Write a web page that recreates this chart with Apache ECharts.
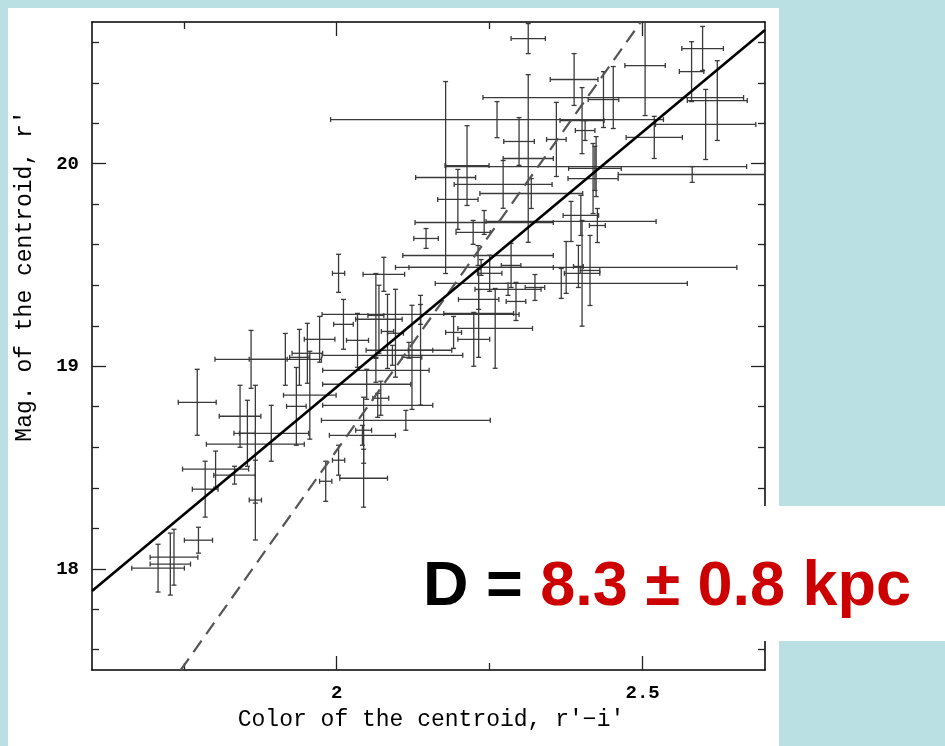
<!DOCTYPE html>
<html>
<head>
<meta charset="utf-8">
<script src="https://cdn.jsdelivr.net/npm/echarts@6/dist/echarts.min.js"></script>
<style>
  html, body { margin: 0; padding: 0; background: #bae0e3; }
  #panel { position: absolute; left: 8px; top: 8px; width: 771px; height: 738px; background: #fff; }
  #chart { position: absolute; left: 0; top: 0; width: 945px; height: 746px; }
</style>
</head>
<body>
<div id="panel"></div>
<div id="chart"></div>
<script>
// centroid colour r'-i' and magnitude r', with their errors
var colorX = [2.313, 2.598, 2.580, 2.622, 2.603, 2.519, 2.504, 2.262, 2.178, 2.213,
  2.581, 2.424, 2.198, 2.452, 2.388, 2.298, 2.313, 2.422, 2.419, 2.436,
  2.401, 2.406, 2.359, 2.399, 2.383, 2.426, 2.375, 2.367, 2.401, 2.414,
  2.395, 2.285, 2.250, 2.293, 2.324, 2.232, 2.137, 2.224, 2.259, 2.191,
  2.232, 2.280, 2.231, 2.236, 2.077, 2.064, 2.003, 2.011, 2.034, 2.069,
  2.083, 2.096, 2.123, 2.137, 2.091, 2.064, 2.049, 2.067, 2.113, 2.044,
  2.042, 2.072, 1.860, 1.916, 1.939, 1.972, 1.772, 1.842, 1.867, 1.854,
  1.893, 1.934, 1.956, 1.952, 1.802, 1.785, 1.833, 1.867, 1.774, 1.708,
  1.728, 1.734, 2.044, 1.982, 2.003, 2.118, 2.272, 2.318, 2.241, 2.223,
  2.146];
var magY = [20.618, 20.569, 20.455, 20.312, 20.194, 20.130, 20.485, 20.218, 19.932, 19.991,
  19.947, 19.986, 19.824, 20.327, 20.416, 20.110, 20.026, 19.977, 19.927, 20.317,
  20.213, 20.164, 20.120, 19.745, 19.715, 19.695, 19.488, 19.409, 19.459, 19.473,
  19.493, 19.498, 19.459, 19.320, 19.389, 19.261, 19.256, 19.133, 19.187, 19.167,
  19.330, 19.380, 19.547, 19.488, 19.454, 19.251, 19.459, 19.207, 19.128, 19.232,
  19.172, 19.163, 19.044, 19.079, 19.054, 18.980, 18.911, 18.807, 18.733, 18.684,
  18.659, 18.842, 19.034, 19.034, 19.044, 19.133, 18.822, 18.753, 18.615, 18.669,
  18.669, 18.802, 18.857, 19.064, 18.492, 18.393, 18.462, 18.339, 18.141, 18.003,
  18.023, 18.057, 18.447, 18.432, 18.536, 19.079, 19.898, 19.853, 19.710, 19.661,
  19.631];
var colorErr = [.028, .034, .020, .049, .082, .046, .033, .272, .049, .036,
  .121, .246, .033, .213, .039, .025, .041, .043, .041, .025,
  .036, .016, .016, .029, .139, .013, .279, .206, .029, .016,
  .008, .016, .020, .016, .016, .057, .161, .026, .061, .013,
  .033, .054, .123, .118, .034, .013, .010, .016, .018, .038,
  .010, .013, .016, .020, .115, .087, .072, .090, .138, .013,
  .054, .013, .059, .059, .016, .025, .031, .034, .080, .013,
  .061, .016, .043, .025, .054, .021, .034, .010, .023, .043,
  .033, .039, .039, .010, .010, .070, .080, .084, .113, .028,
  .020];
var magErr = [.074, .109, .148, .197, .173, .104, .247, .089, .474, .197,
  .039, .148, .148, .153, .128, .118, .414, .109, .173, .138,
  .163, .049, .183, .099, .099, .084, .128, .074, .261, .173,
  .104, .109, .089, .094, .064, .217, .049, .133, .197, .079,
  .049, .030, .049, .039, .084, .207, .094, .123, .133, .168,
  .183, .217, .257, .271, .049, .059, .074, .059, .049, .163,
  .049, .084, .143, .128, .138, .113, .163, .153, .291, .163,
  .138, .192, .217, .148, .089, .138, .044, .197, .064, .118,
  .153, .138, .143, .099, .074, .039, .118, .074, .059, .059,
  .049];

// fitted relation (solid) and reference slope (dashed)
var fitX = [1.6, 2.7];
var fitY = [17.89, 20.66];
var refX = [1.745, 2.497];
var refY = [17.5, 20.7];

// ticks
var xMajor = [2, 2.5];
var xMinor = [1.75, 2.25];
var yMajor = [18, 19, 20];
var yMinor = [17.6, 17.8, 18.2, 18.4, 18.6, 18.8, 19.2, 19.4, 19.6, 19.8, 20.2, 20.4, 20.6];

var monoFont = '"Liberation Mono", "DejaVu Sans Mono", monospace';

function xAxisOf(pos, ticks, len, withLine, withLabel) {
  return {
    type: 'value', min: 1.6, max: 2.7, position: pos,
    splitLine: { show: false },
    axisLine: { show: withLine, onZero: false, lineStyle: { color: '#000', width: 1.5 } },
    axisTick: { inside: true, length: len, customValues: ticks, lineStyle: { color: '#222', width: 1.3 } },
    axisLabel: { show: withLabel, customValues: ticks, margin: 14, color: '#000',
      fontFamily: monoFont, fontWeight: 'bold', fontSize: 19 }
  };
}
function yAxisOf(pos, ticks, len, withLine, withLabel) {
  return {
    type: 'value', min: 17.5, max: 20.7, position: pos,
    splitLine: { show: false },
    axisLine: { show: withLine, onZero: false, lineStyle: { color: '#000', width: 1.5 } },
    axisTick: { inside: true, length: len, customValues: ticks, lineStyle: { color: '#222', width: 1.3 } },
    axisLabel: { show: withLabel, customValues: ticks, margin: 13, color: '#000',
      fontFamily: monoFont, fontWeight: 'bold', fontSize: 19 }
  };
}

function renderBar(params, api) {
  var x = api.value(0), y = api.value(1), ex = api.value(2), ey = api.value(3);
  var l = api.coord([x - ex, y]), r = api.coord([x + ex, y]);
  var t = api.coord([x, y + ey]), b = api.coord([x, y - ey]);
  var c = 2.5;
  var st = { stroke: '#3a3a3a', lineWidth: 1.3 };
  return {
    type: 'group',
    children: [
      { type: 'line', shape: { x1: l[0], y1: l[1], x2: r[0], y2: r[1] }, style: st },
      { type: 'line', shape: { x1: t[0], y1: t[1], x2: b[0], y2: b[1] }, style: st },
      { type: 'line', shape: { x1: l[0], y1: l[1] - c, x2: l[0], y2: l[1] + c }, style: st },
      { type: 'line', shape: { x1: r[0], y1: r[1] - c, x2: r[0], y2: r[1] + c }, style: st },
      { type: 'line', shape: { x1: t[0] - c, y1: t[1], x2: t[0] + c, y2: t[1] }, style: st },
      { type: 'line', shape: { x1: b[0] - c, y1: b[1], x2: b[0] + c, y2: b[1] }, style: st }
    ]
  };
}

var bars = colorX.map(function (x, i) { return [x, magY[i], colorErr[i], magErr[i]]; });
var fitLine = fitX.map(function (x, i) { return [x, fitY[i]]; });
var refLine = refX.map(function (x, i) { return [x, refY[i]]; });

var chart = echarts.init(document.getElementById('chart'));
chart.setOption({
  animation: false,
  backgroundColor: 'transparent',
  grid: { left: 92, top: 22, width: 673, height: 648 },
  xAxis: [
    xAxisOf('bottom', xMajor, 14, true, true),
    xAxisOf('bottom', xMinor, 7, false, false),
    xAxisOf('top', xMajor, 14, true, false),
    xAxisOf('top', xMinor, 7, false, false)
  ],
  yAxis: [
    yAxisOf('left', yMajor, 14, true, true),
    yAxisOf('left', yMinor, 7, false, false),
    yAxisOf('right', yMajor, 14, true, false),
    yAxisOf('right', yMinor, 7, false, false)
  ],
  series: [
    {
      type: 'custom', renderItem: renderBar, data: bars, clip: true,
      encode: { x: 0, y: 1 }, xAxisIndex: 0, yAxisIndex: 0, z: 2
    },
    {
      type: 'line', data: refLine, showSymbol: false, symbol: 'none', clip: true,
      lineStyle: { color: '#555', width: 2.2, type: [14, 8] }, z: 3
    },
    {
      type: 'line', data: fitLine, showSymbol: false, symbol: 'none', clip: true,
      lineStyle: { color: '#000', width: 2.6 }, z: 4
    }
  ],
  graphic: [
    {
      type: 'text', x: 431, y: 720, z: 10,
      style: { text: "Color of the centroid, r'\u2212i'", font: '23px ' + monoFont, fill: '#000',
        textAlign: 'center', textVerticalAlign: 'middle', align: 'center', verticalAlign: 'middle' }
    },
    {
      type: 'text', x: 25, y: 276, rotation: Math.PI / 2, z: 10,
      style: { text: "Mag. of the centroid, r'", font: '23px ' + monoFont, fill: '#000',
        textAlign: 'center', textVerticalAlign: 'middle', align: 'center', verticalAlign: 'middle' }
    },
    {
      type: 'rect', z: 100, shape: { x: 410, y: 506, width: 535, height: 135 },
      style: { fill: '#fff' }
    },
    {
      type: 'text', x: 423, y: 588, z: 101,
      style: {
        text: '{a|D = }{b|8.3 \u00b1 0.8 kpc}',
        textVerticalAlign: 'middle', verticalAlign: 'middle',
        rich: {
          a: { font: 'bold 63px "Liberation Sans", Arial, sans-serif', fill: '#000', color: '#000' },
          b: { font: 'bold 63px "Liberation Sans", Arial, sans-serif', fill: '#cc0000', color: '#cc0000' }
        }
      }
    }
  ]
});
</script>
</body>
</html>
